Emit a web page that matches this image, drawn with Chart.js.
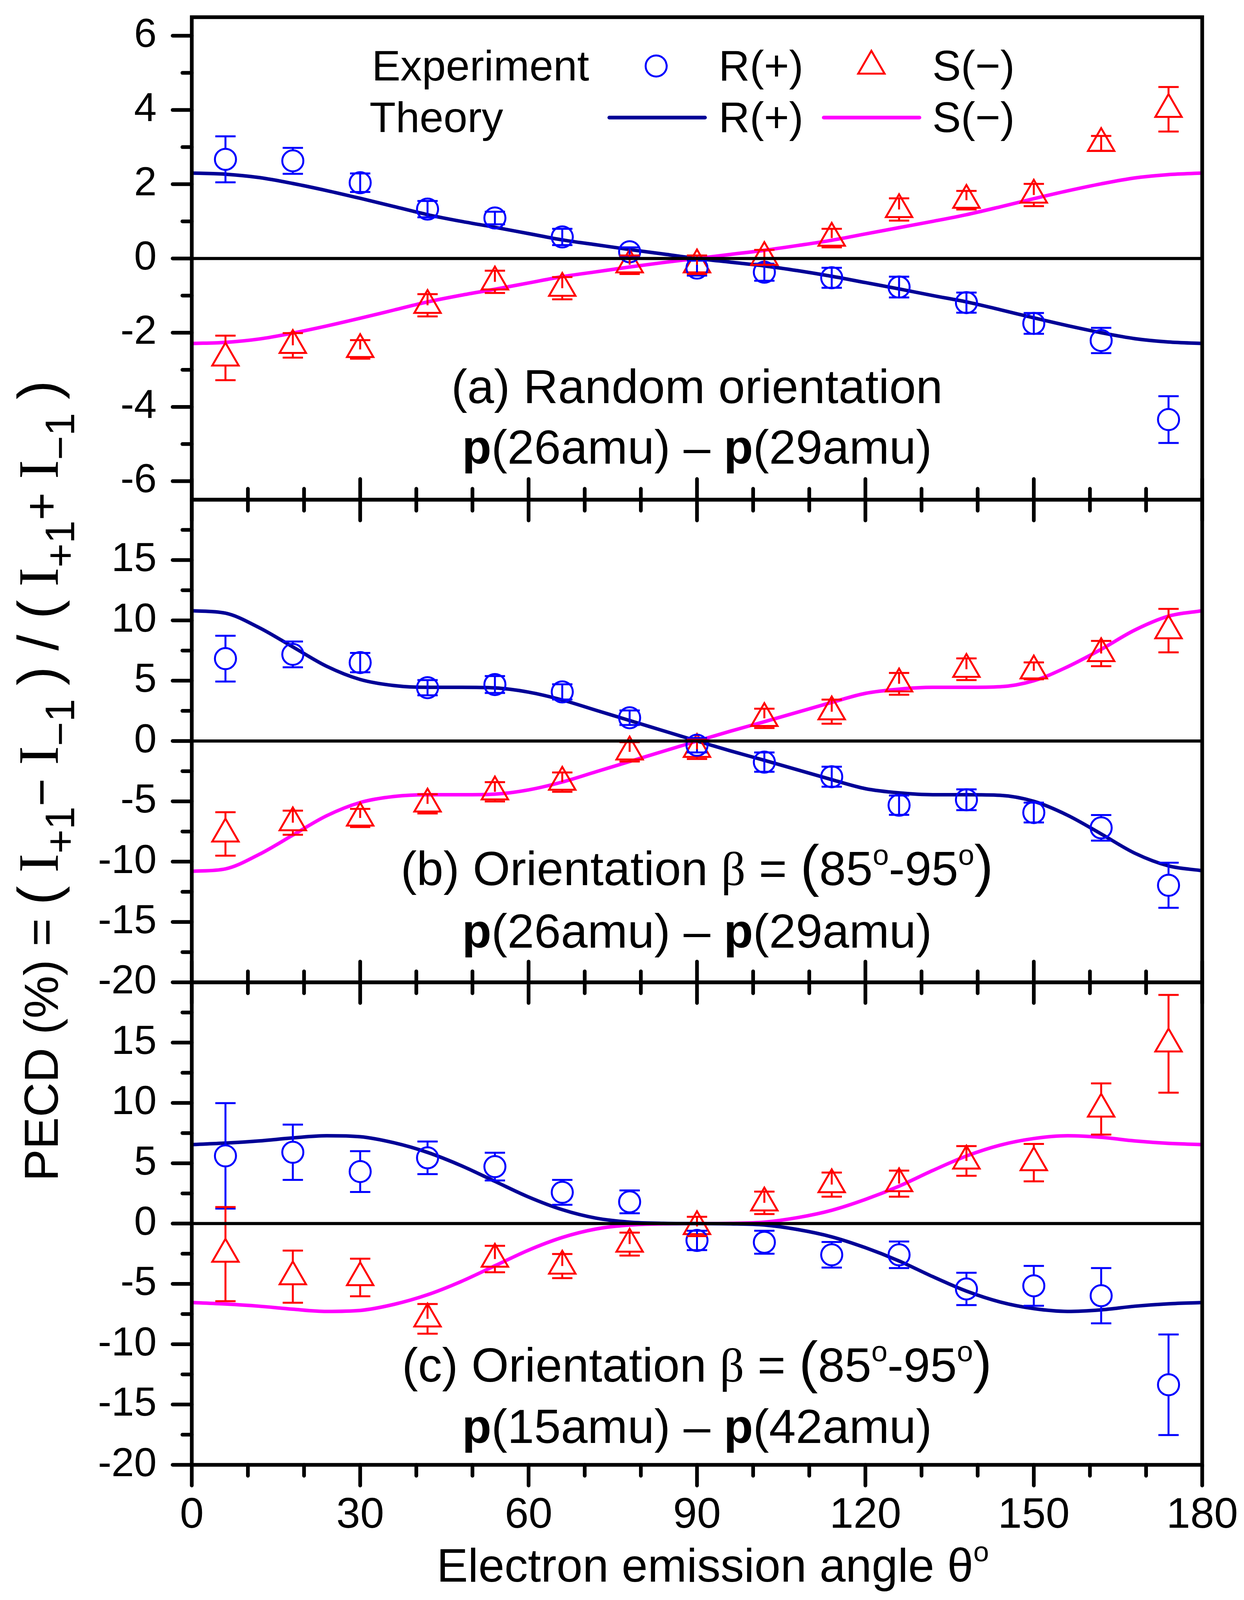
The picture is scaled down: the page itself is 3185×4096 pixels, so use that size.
<!DOCTYPE html>
<html>
<head>
<meta charset="utf-8">
<script src="https://cdn.jsdelivr.net/npm/chart.js@4.4.1/dist/chart.umd.min.js"></script>
<style>
  html, body { margin: 0; padding: 0; background: #fff; }
  #wrap { width: 3185px; height: 4096px; }
</style>
</head>
<body>
<div id="wrap"><canvas id="pecd" width="3185" height="4096"></canvas></div>
<script>
// measured angles (deg)
const angles = [6, 18, 30, 42, 54, 66, 78, 90, 102, 114, 126, 138, 150, 162, 174];
const thetaGrid = [0, 6, 12, 18, 24, 30, 36, 42, 48, 54, 60, 66, 72, 78, 84, 90,
  96, 102, 108, 114, 120, 126, 132, 138, 144, 150, 156, 162, 168, 174, 180];

// (a) random orientation
const expR_a = [2.67, 2.63, 2.04, 1.33, 1.09, 0.58, 0.18, -0.26, -0.37, -0.52, -0.77, -1.19, -1.75, -2.21, -4.34];
const errR_a = [0.62, 0.35, 0.25, 0.22, 0.17, 0.22, 0.12, 0.20, 0.23, 0.27, 0.28, 0.27, 0.28, 0.34, 0.63];
const expS_a = [-2.68, -2.34, -2.45, -1.26, -0.63, -0.80, -0.17, -0.17, 0.03, 0.55, 1.32, 1.57, 1.71, 3.10, 4.02];
const errS_a = [0.60, 0.33, 0.25, 0.30, 0.30, 0.30, 0.25, 0.25, 0.20, 0.25, 0.30, 0.25, 0.30, 0.20, 0.60];
const thR_a = [2.30, 2.27, 2.18, 2.02, 1.83, 1.62, 1.40, 1.18, 1.00, 0.84, 0.67, 0.50, 0.37, 0.24, 0.12, 0.00,
  -0.10, -0.20, -0.33, -0.48, -0.65, -0.82, -1.00, -1.17, -1.38, -1.60, -1.81, -2.00, -2.16, -2.25, -2.29];
const thS_a = [-2.29, -2.26, -2.17, -2.01, -1.82, -1.61, -1.39, -1.17, -0.99, -0.83, -0.66, -0.49, -0.36, -0.23, -0.11, 0.00,
  0.11, 0.22, 0.35, 0.49, 0.66, 0.83, 1.00, 1.18, 1.39, 1.61, 1.82, 2.01, 2.17, 2.26, 2.30];

// (b) orientation 85-95, p(26amu) - p(29amu)
const expR_b = [6.83, 7.18, 6.50, 4.42, 4.68, 4.07, 1.93, -0.35, -1.75, -2.96, -5.32, -4.87, -5.93, -7.20, -11.96];
const errR_b = [1.90, 1.07, 0.80, 0.63, 0.70, 0.63, 0.60, 0.60, 0.80, 0.83, 0.80, 0.86, 0.82, 1.06, 1.87];
const expS_b = [-7.70, -6.77, -6.38, -5.21, -4.21, -3.41, -0.90, -0.69, 1.88, 2.43, 4.74, 5.95, 5.82, 7.25, 9.15];
const errS_b = [1.80, 1.00, 0.75, 0.80, 0.80, 0.80, 0.80, 0.80, 0.80, 1.00, 0.90, 0.90, 0.70, 1.05, 1.80];
const thR_b = [10.8, 10.6, 9.4, 7.8, 6.2, 5.1, 4.6, 4.45, 4.45, 4.4, 4.05, 3.4, 2.55, 1.7, 0.85, 0.0,
  -0.82, -1.6, -2.4, -3.2, -3.95, -4.3, -4.45, -4.45, -4.5, -5.0, -6.15, -7.7, -9.3, -10.35, -10.75];
const thS_b = [-10.8, -10.6, -9.4, -7.8, -6.2, -5.1, -4.6, -4.45, -4.45, -4.4, -4.05, -3.4, -2.55, -1.7, -0.85, 0.0,
  0.82, 1.6, 2.4, 3.2, 3.95, 4.3, 4.45, 4.45, 4.5, 5.0, 6.15, 7.6, 9.2, 10.35, 10.8];

// (c) orientation 85-95, p(15amu) - p(42amu)
const expR_c = [5.61, 5.91, 4.31, 5.45, 4.72, 2.59, 1.80, -1.40, -1.55, -2.59, -2.59, -5.42, -5.16, -5.98, -13.36];
const errR_c = [4.37, 2.29, 1.69, 1.35, 1.15, 1.03, 0.95, 0.80, 0.95, 1.06, 1.10, 1.34, 1.65, 2.29, 4.17];
const expS_c = [-2.53, -4.40, -4.47, -7.90, -2.94, -3.52, -1.70, -0.24, 1.72, 3.23, 3.31, 5.19, 5.05, 9.50, 14.90];
const errS_c = [3.90, 2.16, 1.56, 1.23, 1.10, 1.00, 0.95, 0.80, 0.93, 1.00, 1.08, 1.23, 1.55, 2.12, 4.05];
const thR_c = [6.55, 6.67, 6.85, 7.1, 7.28, 7.2, 6.7, 5.9, 4.8, 3.5, 2.2, 1.15, 0.45, 0.12, 0.02, 0.0,
  -0.02, -0.12, -0.5, -1.1, -2.0, -3.1, -4.4, -5.6, -6.5, -7.05, -7.28, -7.15, -6.85, -6.65, -6.55];
const thS_c = [-6.55, -6.67, -6.85, -7.1, -7.28, -7.2, -6.7, -5.9, -4.8, -3.5, -2.2, -1.15, -0.45, -0.12, -0.02, 0.0,
  0.02, 0.12, 0.5, 1.1, 2.0, 3.1, 4.4, 5.6, 6.5, 7.05, 7.28, 7.15, 6.85, 6.65, 6.55];

// ticks
const xTicks = [0, 30, 60, 90, 120, 150, 180];
const xMinor = [10, 20, 40, 50, 70, 80, 100, 110, 130, 140, 160, 170];
const yTicksA = [-6, -4, -2, 0, 2, 4, 6];
const yMinorA = [-5, -3, -1, 1, 3, 5];
const yTicksB = [-20, -15, -10, -5, 0, 5, 10, 15];
const yMinorB = [-17.5, -12.5, -7.5, -2.5, 2.5, 7.5, 12.5, 17.5];
const yTicksC = [-20, -15, -10, -5, 0, 5, 10, 15];
const yMinorC = [-17.5, -12.5, -7.5, -2.5, 2.5, 7.5, 12.5, 17.5];

const SANS = '"Liberation Sans", Arial, sans-serif';
const SERIF = '"Liberation Serif", "Times New Roman", serif';
const NAVY = '#000096', MAGENTA = '#ff00ff', BLUE = '#0000ff', RED = '#ff0000';

function pts(xs, ys) { return xs.map((x, i) => ({x: x, y: ys[i]})); }

function expSet(label, yAxisID, ys, errs, color, style, radius) {
  return {
    type: 'line', label: label, xAxisID: 'x', yAxisID: yAxisID,
    data: pts(angles, ys), errors: errs, showLine: false,
    pointStyle: style, pointRadius: radius, pointHoverRadius: radius,
    pointBorderWidth: 5, pointBorderColor: color, pointBackgroundColor: 'rgba(0,0,0,0)',
    order: 0
  };
}
function theorySet(label, yAxisID, ys, color) {
  return {
    type: 'line', label: label, xAxisID: 'x', yAxisID: yAxisID,
    data: pts(thetaGrid, ys), borderColor: color, borderWidth: 9,
    pointRadius: 0, cubicInterpolationMode: 'monotone', fill: false,
    borderCapStyle: 'round', order: 1
  };
}

function richWidth(ctx, parts) {
  let w = 0;
  parts.forEach(p => { ctx.font = p.f; p.w = ctx.measureText(p.t).width; w += p.w; });
  return w;
}
function drawRich(ctx, parts, x, y, align) {
  const w = richWidth(ctx, parts);
  let cx = align === 'center' ? x - w / 2 : x;
  parts.forEach(p => { ctx.font = p.f; ctx.fillText(p.t, cx, y + (p.dy || 0)); cx += p.w; });
}

// error bars, drawn from the y scales
const errorBars = {
  id: 'errorBars',
  afterDatasetsDraw(chart) {
    const ctx = chart.ctx;
    chart.data.datasets.forEach((ds, i) => {
      if (!ds.errors) return;
      const meta = chart.getDatasetMeta(i);
      const ys = chart.scales[ds.yAxisID];
      ctx.save();
      ctx.strokeStyle = ds.pointBorderColor;
      ctx.lineWidth = 5;
      meta.data.forEach((el, j) => {
        const v = ds.data[j].y, e = ds.errors[j];
        const yTop = ys.getPixelForValue(v + e), yBot = ys.getPixelForValue(v - e);
        const x = el.x, y = el.y, r = ds.pointRadius;
        const gUp = r, gDown = ds.pointStyle === 'triangle' ? r / 2 : r;
        ctx.beginPath();
        ctx.moveTo(x, (y - yTop > gUp) ? y - gUp : y); ctx.lineTo(x, yTop);
        ctx.moveTo(x, (yBot - y > gDown) ? y + gDown : y); ctx.lineTo(x, yBot);
        ctx.moveTo(x - 26, yTop); ctx.lineTo(x + 26, yTop);
        ctx.moveTo(x - 26, yBot); ctx.lineTo(x + 26, yBot);
        ctx.stroke();
      });
      ctx.restore();
    });
  }
};

// frames, ticks, zero lines, legend and texts
const decor = {
  id: 'decor',
  afterDraw(chart) {
    const ctx = chart.ctx, area = chart.chartArea, xs = chart.scales.x;
    const L = area.left, R = area.right;
    const panels = [
      {s: chart.scales.ya, major: yTicksA, minor: yMinorA},
      {s: chart.scales.yb, major: yTicksB, minor: yMinorB},
      {s: chart.scales.yc, major: yTicksC, minor: yMinorC}
    ];
    ctx.save();
    ctx.strokeStyle = '#000';
    ctx.fillStyle = '#000';

    // zero lines
    ctx.lineWidth = 8;
    ctx.lineCap = 'round';
    panels.forEach(p => {
      const y0 = p.s.getPixelForValue(0);
      ctx.beginPath(); ctx.moveTo(L - 49, y0); ctx.lineTo(R, y0); ctx.stroke();
    });

    // y ticks (outside, left)
    ctx.lineWidth = 9.5;
    panels.forEach(p => {
      ctx.beginPath();
      p.major.forEach(v => { const y = p.s.getPixelForValue(v); ctx.moveTo(L - 49, y); ctx.lineTo(L, y); });
      p.minor.forEach(v => { const y = p.s.getPixelForValue(v); ctx.moveTo(L - 24, y); ctx.lineTo(L, y); });
      ctx.stroke();
    });

    // x ticks: both ways on inner boundaries, outward at the bottom
    const bounds = [panels[1].s.top, panels[2].s.top];
    ctx.beginPath();
    xTicks.forEach(v => {
      const x = xs.getPixelForValue(v);
      bounds.forEach(b => { ctx.moveTo(x, b - 53); ctx.lineTo(x, b + 53); });
      ctx.moveTo(x, area.bottom); ctx.lineTo(x, area.bottom + 53);
    });
    xMinor.forEach(v => {
      const x = xs.getPixelForValue(v);
      bounds.forEach(b => { ctx.moveTo(x, b - 28); ctx.lineTo(x, b + 28); });
      ctx.moveTo(x, area.bottom); ctx.lineTo(x, area.bottom + 28);
    });
    ctx.stroke();

    // frames
    ctx.lineWidth = 9.5;
    ctx.lineCap = 'square';
    panels.forEach(p => { ctx.strokeRect(L, p.s.top, R - L, p.s.bottom - p.s.top); });

    // legend
    ctx.textBaseline = 'alphabetic';
    ctx.font = '110px ' + SANS;
    ctx.fillText('Experiment', 952, 206);
    ctx.fillText('Theory', 946, 338);
    ctx.fillText('R(+)', 1840, 206);
    ctx.fillText('R(+)', 1840, 338);
    ctx.fillText('S(\u2212)', 2387, 206);
    ctx.fillText('S(\u2212)', 2387, 338);
    ctx.lineWidth = 5;
    ctx.strokeStyle = BLUE;
    ctx.beginPath(); ctx.arc(1680, 169, 27, 0, Math.PI * 2); ctx.stroke();
    ctx.strokeStyle = RED;
    ctx.beginPath();
    ctx.moveTo(2231, 169 - 39); ctx.lineTo(2231 + 39 * 0.866, 169 + 19.5);
    ctx.lineTo(2231 - 39 * 0.866, 169 + 19.5); ctx.closePath(); ctx.stroke();
    ctx.lineWidth = 9.5; ctx.lineCap = 'round';
    ctx.strokeStyle = NAVY;
    ctx.beginPath(); ctx.moveTo(1560, 301); ctx.lineTo(1805, 301); ctx.stroke();
    ctx.strokeStyle = MAGENTA;
    ctx.beginPath(); ctx.moveTo(2109, 301); ctx.lineTo(2354, 301); ctx.stroke();

    // panel captions
    const cx = (L + R) / 2;
    const N = '123px ' + SANS, B = 'bold 123px ' + SANS, BIG = '146px ' + SANS;
    const G = '123px ' + SERIF, SUP = '74px ' + SANS;
    const line2 = (m1, m2) => [
      {t: 'p', f: B}, {t: '(' + m1 + ') \u2013 ', f: N}, {t: 'p', f: B}, {t: '(' + m2 + ')', f: N}
    ];
    const orient = (tag) => [
      {t: '(' + tag + ') Orientation ', f: N}, {t: '\u03b2', f: G}, {t: ' = ', f: N},
      {t: '(', f: BIG}, {t: '85', f: N}, {t: 'o', f: SUP, dy: -52},
      {t: '-95', f: N}, {t: 'o', f: SUP, dy: -52}, {t: ')', f: BIG}
    ];
    ctx.fillStyle = '#000';
    const ta = panels[0].s.top, tb = panels[1].s.top, tc = panels[2].s.top;
    drawRich(ctx, [{t: '(a) Random orientation', f: N}], cx, ta + 988, 'center');
    drawRich(ctx, line2('26amu', '29amu'), cx, ta + 1143, 'center');
    drawRich(ctx, orient('b'), cx, tb + 987, 'center');
    drawRich(ctx, line2('26amu', '29amu'), cx, tb + 1147, 'center');
    drawRich(ctx, orient('c'), cx, tc + 1022, 'center');
    drawRich(ctx, line2('15amu', '42amu'), cx, tc + 1179, 'center');

    // x title
    const XT = '120px ' + SANS;
    drawRich(ctx, [{t: 'Electron emission angle \u03b8', f: XT}, {t: 'o', f: '72px ' + SANS, dy: -52}],
      1825, 4049, 'center');

    // y title (rotated)
    const YN = '123px ' + SANS, YL = '146px ' + SANS, YI = '146px ' + SERIF, YS = '106px ' + SANS;
    const grp = (op) => [
      {t: '(', f: YL}, {t: ' ', f: YN}, {t: 'I', f: YI}, {t: '+1', f: YS, dy: 42},
      {t: op + ' ', f: YN}, {t: 'I', f: YI}, {t: '\u22121', f: YS, dy: 42}, {t: ' ', f: YN}, {t: ')', f: YL}
    ];
    const yParts = [{t: 'PECD (%) = ', f: YN}].concat(grp('\u2212'), [{t: ' / ', f: YL}], grp('+'));
    ctx.save();
    ctx.translate(147.5, 1999);
    ctx.rotate(-Math.PI / 2);
    drawRich(ctx, yParts, 0, 0, 'center');
    ctx.restore();

    ctx.restore();
  }
};

const datasets = [
  expSet('R(+) exp a', 'ya', expR_a, errR_a, BLUE, 'circle', 27),
  expSet('S(-) exp a', 'ya', expS_a, errS_a, RED, 'triangle', 39),
  expSet('R(+) exp b', 'yb', expR_b, errR_b, BLUE, 'circle', 27),
  expSet('S(-) exp b', 'yb', expS_b, errS_b, RED, 'triangle', 39),
  expSet('R(+) exp c', 'yc', expR_c, errR_c, BLUE, 'circle', 27),
  expSet('S(-) exp c', 'yc', expS_c, errS_c, RED, 'triangle', 39),
  theorySet('R(+) theory a', 'ya', thR_a, NAVY),
  theorySet('S(-) theory a', 'ya', thS_a, MAGENTA),
  theorySet('R(+) theory b', 'yb', thR_b, NAVY),
  theorySet('S(-) theory b', 'yb', thS_b, MAGENTA),
  theorySet('R(+) theory c', 'yc', thR_c, NAVY),
  theorySet('S(-) theory c', 'yc', thS_c, MAGENTA)
];

function noPad(s) { s.paddingTop = 0; s.paddingBottom = 0; s.paddingLeft = 0; s.paddingRight = 0; }

function yAxis(min, max, ticks) {
  return {
    type: 'linear', position: 'left', stack: 'panels', stackWeight: 1,
    min: min, max: max,
    grid: {display: false, drawTicks: false},
    border: {display: false},
    afterBuildTicks: (s) => { s.ticks = ticks.map(v => ({value: v})); },
    afterFit: (s) => { s.width = 491; noPad(s); },
    ticks: {
      padding: 90, color: '#000', autoSkip: false,
      font: {family: SANS, size: 104},
      callback: (v) => String(v)
    }
  };
}

new Chart(document.getElementById('pecd'), {
  type: 'line',
  data: {datasets: datasets},
  options: {
    responsive: false,
    animation: false,
    devicePixelRatio: 1,
    layout: {padding: {left: 0, right: 107, top: 34, bottom: 0}},
    plugins: {legend: {display: false}, tooltip: {enabled: false}},
    scales: {
      x: {
        type: 'linear', position: 'bottom', min: 0, max: 180,
        grid: {display: false, drawTicks: false},
        border: {display: false},
        afterBuildTicks: (s) => { s.ticks = xTicks.map(v => ({value: v})); },
        afterFit: (s) => { s.height = 346; noPad(s); },
        ticks: {padding: 65, color: '#000', autoSkip: false, font: {family: SANS, size: 110}, maxRotation: 0}
      },
      yc: yAxis(-20, 20, yTicksC),
      yb: yAxis(-20, 20, yTicksB),
      ya: yAxis(-6.5, 6.5, yTicksA)
    }
  },
  plugins: [errorBars, decor]
});
</script>
</body>
</html>
